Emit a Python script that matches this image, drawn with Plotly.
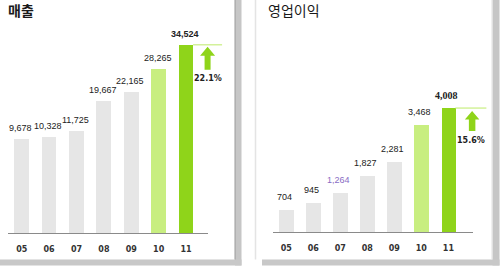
import plotly.graph_objects as go

# ---- data ----
years = ["05", "06", "07", "08", "09", "10", "11"]
sales = [9678, 10328, 11725, 19667, 22165, 28265, 34524]
op_profit = [704, 945, 1264, 1827, 2281, 3468, 4008]
sales_growth = "22.1%"
op_growth = "15.6%"
titles = ["매출", "영업이익"]

# ---- styles ----
GRAY = "#e6e6e6"
LIGHT_GREEN = "#c8ee80"
GREEN = "#8fd41a"
bar_colors = [GRAY] * 5 + [LIGHT_GREEN, GREEN]
LEFT_BASE = -15000  # baseline offset of the sales panel (axis style)

W, H = 500, 266
# axis geometry (pixels / data ranges)
L_XDOM = (8, 208)
R_XDOM = (272.7, 472.7)
L_XRANGE = [-0.5, 6.8]
R_XRANGE = [-0.5, 6.9]
L_BASE_PX = 233      # baseline pixel row (from top)
R_BASE_PX = 232.3
L_YPX = 0.0038       # px per value unit
R_YPX = 0.031
L_YRANGE = [LEFT_BASE, LEFT_BASE + L_BASE_PX / L_YPX]
R_YRANGE = [0, R_BASE_PX / R_YPX]


def px(x):
    return x / W


def py(y):
    return 1 - y / H


fig = go.Figure()

fig.add_trace(go.Bar(
    x=list(range(len(years))), y=[v - LEFT_BASE for v in sales], base=LEFT_BASE,
    marker=dict(color=bar_colors, line=dict(width=0)), width=0.54,
    xaxis="x", yaxis="y", hoverinfo="skip", showlegend=False))
fig.add_trace(go.Bar(
    x=list(range(len(years))), y=op_profit,
    marker=dict(color=bar_colors, line=dict(width=0)), width=0.53,
    xaxis="x2", yaxis="y2", hoverinfo="skip", showlegend=False))

axis_common = dict(showgrid=False, zeroline=False, ticks="", showline=True,
                   linecolor="#8a8a8a", linewidth=1, ticklabelstandoff=8,
                   tickmode="array", tickvals=list(range(len(years))), ticktext=years,
                   tickfont=dict(family="DejaVu Sans", size=8, color="#333333", weight="bold"),
                   fixedrange=True)
fig.update_layout(
    width=W, height=H, margin=dict(l=0, r=0, t=0, b=0),
    paper_bgcolor="white", plot_bgcolor="rgba(0,0,0,0)",
    bargap=0,
    xaxis=dict(domain=[px(L_XDOM[0]), px(L_XDOM[1])], range=L_XRANGE, anchor="y", **axis_common),
    yaxis=dict(domain=[(H - L_BASE_PX) / H, 1], range=L_YRANGE, visible=False, anchor="x"),
    xaxis2=dict(domain=[px(R_XDOM[0]), px(R_XDOM[1])], range=R_XRANGE, anchor="y2", **axis_common),
    yaxis2=dict(domain=[(H - R_BASE_PX) / H, 1], range=R_YRANGE, visible=False, anchor="x2"),
)

# ---- panel frames ----
shapes = []
shapes.append(dict(type="rect", xref="paper", yref="paper", x0=px(235), x1=px(241.5), y0=py(265.5), y1=py(0),
                   fillcolor="#c6c6c6", line=dict(width=0), layer="below"))
shapes.append(dict(type="rect", xref="paper", yref="paper", x0=px(0), x1=px(241.5), y0=py(265.5), y1=py(259.5),
                   fillcolor="#c8c8c8", line=dict(width=0), layer="below"))
shapes.append(dict(type="line", xref="paper", yref="paper", x0=px(235), x1=px(235), y0=py(259.5), y1=py(0),
                   line=dict(color="#9a9a9a", width=1), layer="below"))
shapes.append(dict(type="line", xref="paper", yref="paper", x0=px(255.5), x1=px(255.5), y0=py(259.5), y1=py(0),
                   line=dict(color="#e4e4e4", width=1.5), layer="below"))
shapes.append(dict(type="rect", xref="paper", yref="paper", x0=px(492.5), x1=px(499.5), y0=py(265.5), y1=py(0),
                   fillcolor="#c6c6c6", line=dict(width=0), layer="below"))
shapes.append(dict(type="rect", xref="paper", yref="paper", x0=px(262), x1=px(499.5), y0=py(265.5), y1=py(259.5),
                   fillcolor="#c8c8c8", line=dict(width=0), layer="below"))
shapes.append(dict(type="line", xref="paper", yref="paper", x0=px(492), x1=px(492), y0=py(259.5), y1=py(0),
                   line=dict(color="#e0e0e0", width=1), layer="below"))


def growth_marker(xdom, xrange_, base_px, yrange_, ypx, xval, top, line_end, head, shaft, tip, head_base, shaft_end):
    """Arrow next to the last bar: anchor (xval, top) mapped through the axis scale, offsets in pixels."""
    xpx_unit = (xdom[1] - xdom[0]) / (xrange_[1] - xrange_[0])
    ax = xdom[0] + (xval - xrange_[0]) * xpx_unit
    ay = base_px - (top - yrange_[0]) * ypx

    def X(dx):
        return px(ax + dx)

    def Y(dy):
        return py(ay + dy)

    out = [dict(type="line", xref="paper", yref="paper", x0=X(7), x1=X(line_end), y0=Y(0), y1=Y(0),
                line=dict(color=LIGHT_GREEN, width=1.2))]
    hl, hr = head
    sl, sr = shaft
    pts = [(sl, shaft_end), (sl, head_base), (hl, head_base), ((hl + hr) / 2, tip),
           (hr, head_base), (sr, head_base), (sr, shaft_end)]
    path = "M" + " L".join(f"{X(a):.5f},{Y(b):.5f}" for a, b in pts) + " Z"
    out.append(dict(type="path", xref="paper", yref="paper", path=path, fillcolor=GREEN, line=dict(width=0)))
    return out


shapes += growth_marker(L_XDOM, L_XRANGE, L_BASE_PX, L_YRANGE, L_YPX, len(years) - 1, sales[-1],
                        36, (14, 29), (18.5, 24.5), 2, 11, 25)
shapes += growth_marker(R_XDOM, R_XRANGE, R_BASE_PX, R_YRANGE, R_YPX, len(years) - 1, op_profit[-1],
                        38, (16.5, 31), (20.5, 27), 3, 11.5, 23)
fig.update_layout(shapes=shapes)

# ---- annotations ----
ann = []
ann.append(dict(text=titles[0], xref="paper", yref="paper", x=px(6), y=py(10), xanchor="left", yanchor="middle",
                showarrow=False, font=dict(family="Noto Sans CJK KR", size=14, color="#1a1a1a", weight="bold")))
ann.append(dict(text=titles[1], xref="paper", yref="paper", x=px(266), y=py(10), xanchor="left", yanchor="middle",
                showarrow=False, font=dict(family="Noto Sans CJK KR", size=14, color="#1a1a1a")))

label_font = dict(family="Liberation Sans", size=9, color="#222222")
for i, v in enumerate(sales):
    f = dict(label_font)
    if i == len(sales) - 1:
        f["weight"] = "bold"
    ann.append(dict(text=f"{v:,}", xref="x", yref="y", x=i, y=v, yanchor="middle", yshift=11, xshift=-1,
                    showarrow=False, font=f))
for i, v in enumerate(op_profit):
    f = dict(label_font)
    if i == 2:
        f["color"] = "#8a6cc4"
    if i == len(op_profit) - 1:
        f = dict(family="Liberation Serif", size=10, color="#222222", weight="bold")
    ann.append(dict(text=f"{v:,}", xref="x2", yref="y2", x=i, y=v, yanchor="middle", yshift=13, xshift=-1.5,
                    showarrow=False, font=f))

pct_font = dict(family="DejaVu Sans", size=8, color="#222222", weight="bold")
ann.append(dict(text=sales_growth, xref="x", yref="y", x=6, y=sales[-1], xshift=21.5, yshift=-34,
                yanchor="middle", showarrow=False, font=pct_font))
ann.append(dict(text=op_growth, xref="x2", yref="y2", x=6, y=op_profit[-1], xshift=23, yshift=-32.5,
                yanchor="middle", showarrow=False, font=pct_font))
fig.update_layout(annotations=ann)

fig.write_html("out.html")
